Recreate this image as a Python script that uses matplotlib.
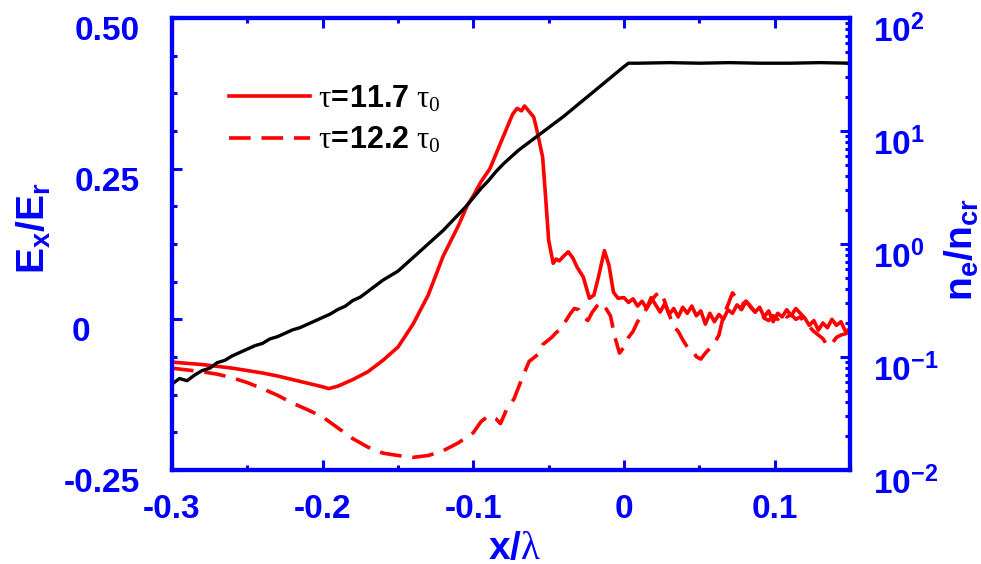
import numpy as np
import matplotlib
matplotlib.use("Agg")
import matplotlib.pyplot as plt
from matplotlib.ticker import MultipleLocator, FixedLocator, NullFormatter, AutoMinorLocator
import matplotlib.transforms as mtransforms

plt.rcParams['font.family'] = ['Liberation Sans', 'DejaVu Sans']
plt.rcParams['axes.unicode_minus'] = False
plt.rcParams['mathtext.fontset'] = 'custom'
plt.rcParams['mathtext.rm'] = 'Liberation Serif:weight=normal'
plt.rcParams['mathtext.it'] = 'Liberation Serif:italic:weight=normal'
plt.rcParams['mathtext.bf'] = 'Liberation Sans:bold'
plt.rcParams['mathtext.sf'] = 'Liberation Sans:bold'

# ---------------- data ----------------
legend_labels = [r'$\mathrm{\tau}\!\mathbf{=}\!\mathbf{11.7}\ \mathrm{\tau_0}$',
                 r'$\mathrm{\tau}\!\mathbf{=}\!\mathbf{12.2}\ \mathrm{\tau_0}$']

x_solid = [-0.300, -0.290, -0.280, -0.270, -0.260, -0.250, -0.240, -0.230, -0.220, -0.210,
           -0.200, -0.196, -0.190, -0.180, -0.170, -0.160, -0.150, -0.140, -0.130, -0.120,
           -0.115, -0.110, -0.104, -0.100, -0.095, -0.089, -0.084, -0.078, -0.074, -0.071,
           -0.068, -0.066, -0.063, -0.060, -0.058, -0.054, -0.052, -0.050, -0.047, -0.045,
           -0.043, -0.040, -0.037, -0.034, -0.031, -0.027, -0.023, -0.020, -0.017, -0.013,
           -0.010, -0.007, -0.004,
           0.000, 0.003, 0.006, 0.009, 0.012, 0.015, 0.018, 0.021, 0.024, 0.027,
           0.030, 0.033, 0.036, 0.039, 0.042, 0.045, 0.048, 0.051, 0.054, 0.057,
           0.060, 0.063, 0.066, 0.069, 0.072, 0.075, 0.078, 0.081, 0.084, 0.087,
           0.090, 0.093, 0.096, 0.099, 0.102, 0.105, 0.108, 0.111, 0.114, 0.117,
           0.120, 0.123, 0.126, 0.129, 0.132, 0.135, 0.138, 0.141, 0.144, 0.147, 0.150]
ex_solid = [-0.071, -0.073, -0.075, -0.078, -0.081, -0.085, -0.089, -0.094, -0.100, -0.106,
            -0.112, -0.115, -0.111, -0.100, -0.087, -0.068, -0.046, -0.008, 0.040, 0.105,
            0.130, 0.155, 0.189, 0.205, 0.228, 0.250, 0.280, 0.316, 0.340, 0.350,
            0.346, 0.354, 0.345, 0.336, 0.316, 0.269, 0.202, 0.131, 0.093, 0.100,
            0.097, 0.105, 0.112, 0.102, 0.086, 0.070, 0.035, 0.040, 0.070, 0.114,
            0.090, 0.045, 0.035,
            0.036, 0.028, 0.034, 0.022, 0.030, 0.018, 0.036, 0.024, 0.012, 0.026,
            0.008, 0.018, 0.004, 0.020, 0.010, 0.022, 0.006, 0.014, -0.008, 0.010,
            -0.004, 0.008, 0.000, 0.016, 0.010, 0.024, 0.016, 0.030, 0.022, 0.012,
            0.020, 0.004, 0.014, -0.004, 0.010, 0.004, 0.016, 0.006, 0.018, 0.010,
            0.002, -0.010, -0.002, -0.018, -0.006, -0.014, 0.000, -0.010, -0.004, -0.020, -0.016]

x_dash = [-0.300, -0.290, -0.280, -0.270, -0.260, -0.250, -0.240, -0.230, -0.220, -0.210,
          -0.200, -0.190, -0.180, -0.170, -0.160, -0.150, -0.140, -0.130, -0.120, -0.110,
          -0.100, -0.095, -0.090, -0.085, -0.082, -0.078, -0.073, -0.068,
          -0.063, -0.060, -0.057, -0.054, -0.051, -0.048, -0.045, -0.042, -0.039, -0.036,
          -0.033, -0.030, -0.027, -0.024, -0.021, -0.018, -0.015, -0.012, -0.009, -0.006,
          -0.003, 0.000, 0.003, 0.006, 0.009, 0.012, 0.015, 0.018, 0.021, 0.024,
          0.027, 0.030, 0.033, 0.036, 0.039, 0.042, 0.045, 0.048, 0.051, 0.054,
          0.057, 0.060, 0.063, 0.066, 0.069, 0.072, 0.075, 0.078, 0.081, 0.084,
          0.087, 0.090, 0.093, 0.096, 0.099, 0.102, 0.105, 0.108, 0.111, 0.114,
          0.117, 0.120, 0.123, 0.126, 0.129, 0.132, 0.135, 0.138, 0.141, 0.144, 0.147, 0.150]
ex_dash = [-0.081, -0.084, -0.087, -0.091, -0.097, -0.105, -0.115, -0.126, -0.139, -0.150,
           -0.162, -0.180, -0.198, -0.212, -0.222, -0.226, -0.229, -0.226, -0.218, -0.205,
           -0.188, -0.170, -0.160, -0.165, -0.173, -0.150, -0.132, -0.100,
           -0.070, -0.064, -0.058, -0.042, -0.036, -0.030, -0.022, -0.016, -0.004, 0.008,
           0.018, 0.016, 0.004, -0.002, 0.012, 0.022, 0.028, 0.018, 0.006, -0.030,
           -0.056, -0.046, -0.030, -0.020, -0.004, 0.006, 0.018, 0.030, 0.040, 0.046,
           0.030, 0.008, -0.012, -0.020, -0.034, -0.046, -0.050, -0.062, -0.066, -0.056,
           -0.048, -0.040, -0.026, 0.006, 0.024, 0.044, 0.034, 0.024, 0.030, 0.020,
           0.012, 0.016, 0.002, -0.002, 0.006, 0.000, 0.010, 0.004, 0.008, 0.000,
           0.004, -0.006, -0.012, -0.020, -0.026, -0.032, -0.044, -0.040, -0.030, -0.026, -0.024, -0.020]

x_ne = [-0.300, -0.295, -0.290, -0.285, -0.280, -0.275, -0.270, -0.265, -0.260, -0.255,
        -0.250, -0.245, -0.240, -0.235, -0.230, -0.225, -0.220, -0.215, -0.210, -0.205,
        -0.200, -0.195, -0.190, -0.185, -0.180, -0.175, -0.170, -0.165, -0.160, -0.155,
        -0.150, -0.145, -0.140, -0.135, -0.130, -0.125, -0.120, -0.115, -0.110, -0.105,
        -0.100, -0.095, -0.090, -0.085, -0.080, -0.075, -0.070, -0.065, -0.060, -0.050,
        -0.040, -0.030, -0.020, -0.010, 0.000, 0.003, 0.010, 0.030, 0.050, 0.070,
        0.090, 0.110, 0.130, 0.150]
ne_log10 = [-1.24, -1.19, -1.21, -1.16, -1.12, -1.10, -1.05, -1.03, -0.99, -0.96,
            -0.93, -0.90, -0.88, -0.84, -0.82, -0.79, -0.76, -0.74, -0.71, -0.68,
            -0.65, -0.62, -0.58, -0.55, -0.50, -0.47, -0.42, -0.37, -0.32, -0.28,
            -0.24, -0.18, -0.12, -0.06, 0.00, 0.06, 0.12, 0.19, 0.26, 0.33,
            0.41, 0.49, 0.56, 0.64, 0.71, 0.77, 0.83, 0.88, 0.93, 1.03,
            1.13, 1.24, 1.35, 1.46, 1.57, 1.60, 1.60, 1.605, 1.60, 1.605,
            1.60, 1.60, 1.605, 1.60]

xticks = [-0.3, -0.2, -0.1, 0.0, 0.1]
xticklabels = ['-0.3', '-0.2', '-0.1', '0', '0.1']
yticks = [-0.25, 0.0, 0.25, 0.5]
yticklabels = ['-0.25', '0', '0.25', '0.50']
rticks = [1e-2, 1e-1, 1e0, 1e1, 1e2]
rticklabels = [r'$\mathbf{10^{-2}}$', r'$\mathbf{10^{-1}}$', r'$\mathbf{10^{0}}$',
               r'$\mathbf{10^{1}}$', r'$\mathbf{10^{2}}$']

# ---------------- figure ----------------
BLUE = '#0000ff'
fig = plt.figure(figsize=(9.81, 5.64), dpi=100)
ax = fig.add_axes([172/981, 1-470/564, 678/981, 452/564])
ax2 = ax.twinx()

ls_dash = (0, (6, 3))
l1, = ax.plot(x_solid, ex_solid, color='#ff0000', lw=2.6, label=legend_labels[0])
l2, = ax.plot(x_dash, ex_dash, color='#ff0000', lw=2.6, linestyle=ls_dash, label=legend_labels[1])
ax2.plot(x_ne, 10**np.array(ne_log10), color='black', lw=2.4)

ax.set_xlim(-0.3, 0.15)
ax.set_ylim(-0.25, 0.5)
ax2.set_yscale('log')
ax2.set_ylim(1e-2, 1e2)

for a in (ax, ax2):
    for s in a.spines.values():
        s.set_color(BLUE)
        s.set_linewidth(3.0)

ax.xaxis.set_major_locator(FixedLocator(xticks))
ax.set_xticklabels(xticklabels, fontweight='bold')
ax.xaxis.set_minor_locator(AutoMinorLocator(2))
ax.yaxis.set_major_locator(FixedLocator(yticks))
ax.yaxis.set_minor_locator(MultipleLocator(0.0625))
ax.set_yticklabels([])
ax.tick_params(axis='x', which='both', direction='in', top=True, bottom=True,
               colors=BLUE, labelsize=24, pad=17)
ax.tick_params(axis='y', which='both', direction='in', left=True, right=False,
               colors=BLUE)
ax.tick_params(which='major', length=7, width=2.2)
ax.tick_params(which='minor', length=3.6, width=2.2)

ax2.yaxis.set_major_locator(FixedLocator(rticks))
ax2.set_yticklabels([])
ax2.yaxis.set_minor_formatter(NullFormatter())
ax2.tick_params(axis='y', which='both', direction='in', right=True, left=False, colors=BLUE)
ax2.tick_params(which='major', length=7, width=2.2)
ax2.tick_params(which='minor', length=3.6, width=2.2)

# left tick labels
ytr = ax.get_yaxis_transform()
for v, t in zip(yticks, yticklabels):
    if t == '0':
        off = mtransforms.ScaledTranslation(-100/100, -22/100, fig.dpi_scale_trans)
        ax.text(0, v, t, transform=ytr + off, ha='left', va='baseline',
                fontsize=24, fontweight='bold', color=BLUE)
    else:
        off = mtransforms.ScaledTranslation(-32/100, -22/100, fig.dpi_scale_trans)
        ax.text(0, v, t, transform=ytr + off, ha='right', va='baseline',
                fontsize=24, fontweight='bold', color=BLUE)

# right tick labels
rtr = ax2.get_yaxis_transform()
for v, t in zip(rticks, rticklabels):
    off = mtransforms.ScaledTranslation(23/100, -24/100, fig.dpi_scale_trans)
    ax2.text(1, v, t, transform=rtr + off, ha='left', va='baseline',
             fontsize=24, color=BLUE)

# axis labels
fig.text(34/981, 1-228/564, r'$\mathbf{E_x/E_r}$', rotation=90, ha='center', va='center',
         fontsize=28, color=BLUE)
fig.text(962/981, 1-250/564, r'$\mathbf{n_e/n_{cr}}$', rotation=90, ha='center', va='center',
         fontsize=28, color=BLUE)
fig.text(515/981, 1-531/564, r'$\mathbf{x/}\mathrm{\lambda}$', ha='center', va='top',
         fontsize=28, color=BLUE)

leg = ax.legend(handles=[l1, l2], loc='upper left', bbox_to_anchor=(0.084, 0.855),
                frameon=False, fontsize=22, handlelength=2.65, handletextpad=0.25,
                borderpad=0, borderaxespad=0, labelspacing=0.35)

fig.savefig('out.png', dpi=100)
